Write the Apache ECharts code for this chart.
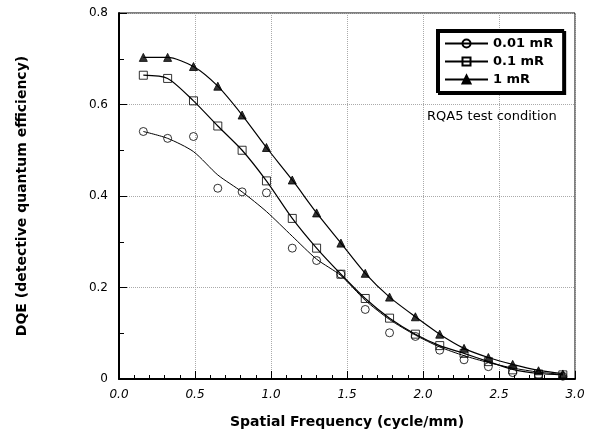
<!DOCTYPE html>
<html>
<head>
<meta charset="utf-8">
<script src="https://cdn.jsdelivr.net/npm/echarts@6/dist/echarts.min.js"></script>
<style>
html,body{margin:0;padding:0;background:#fff;}
#chart{width:594px;height:447px;}
</style>
</head>
<body>
<div id="chart"></div>
<script>
// Spatial frequency (cycle/mm) of the measured points
var freq = [0.16, 0.32, 0.49, 0.65, 0.81, 0.97, 1.14, 1.30, 1.46, 1.62, 1.78, 1.95, 2.11, 2.27, 2.43, 2.59, 2.76, 2.92];

// Measured DQE points
var dqe001 = [0.541, 0.526, 0.530, 0.417, 0.409, 0.407, 0.286, 0.259, 0.229, 0.152, 0.101, 0.093, 0.063, 0.042, 0.027, 0.014, 0.009, 0.006];
var dqe01  = [0.664, 0.657, 0.608, 0.553, 0.500, 0.433, 0.351, 0.286, 0.229, 0.176, 0.133, 0.098, 0.073, 0.056, 0.038, 0.020, 0.011, 0.009];
var dqe1   = [0.703, 0.703, 0.683, 0.640, 0.577, 0.506, 0.435, 0.363, 0.297, 0.231, 0.179, 0.136, 0.098, 0.067, 0.047, 0.032, 0.018, 0.011];

// Fitted curves
var fit001 = [0.541, 0.526, 0.497, 0.446, 0.409, 0.366, 0.312, 0.262, 0.226, 0.172, 0.130, 0.096, 0.070, 0.051, 0.036, 0.024, 0.015, 0.010];
var fit01  = [0.664, 0.657, 0.608, 0.553, 0.500, 0.433, 0.351, 0.286, 0.229, 0.176, 0.133, 0.098, 0.073, 0.056, 0.038, 0.021, 0.012, 0.009];
var fit1   = [0.703, 0.703, 0.683, 0.640, 0.577, 0.506, 0.435, 0.363, 0.297, 0.231, 0.179, 0.136, 0.098, 0.067, 0.047, 0.032, 0.019, 0.012];

var names = ['0.01 mR', '0.1 mR', '1 mR'];
var xTickLabels = ['0.0', '0.5', '1.0', '1.5', '2.0', '2.5', '3.0'];
var yTickLabels = ['0', '0.2', '0.4', '0.6', '0.8'];
var xTitle = 'Spatial Frequency (cycle/mm)';
var yTitle = 'DQE (detective quantum efficiency)';
var note = 'RQA5 test condition';

function pairs(xs, ys) { return xs.map(function (x, i) { return [x, ys[i]]; }); }

var FONT = 'DejaVu Sans';
var hollow = {color: 'rgba(0,0,0,0)', borderColor: '#000', borderWidth: 1};
var solid = {color: '#000', borderColor: '#000', borderWidth: 1};

function fitSeries(name, data, symbol, size, style, width) {
  return {
    type: 'line', name: name, data: pairs(freq, data), smooth: 0.25,
    symbol: symbol, symbolSize: size, showSymbol: false,
    itemStyle: style, lineStyle: {color: '#000', width: width},
    z: 2, silent: true
  };
}
function ptSeries(name, data, symbol, size, style) {
  return {
    type: 'scatter', name: name + ' pts', data: pairs(freq, data),
    symbol: symbol, symbolSize: size, itemStyle: style, z: 3, silent: true
  };
}

var chart = echarts.init(document.getElementById('chart'), null, {renderer: 'canvas'});
chart.setOption({
  animation: false,
  backgroundColor: '#fff',
  grid: {left: 119, right: 19, top: 13, bottom: 68, show: true, borderColor: '#000', borderWidth: 1, backgroundColor: 'rgba(0,0,0,0)'},
  legend: {
    data: names,
    orient: 'vertical',
    left: 437, top: 30,
    padding: [7, 10, 6, 7],
    itemGap: 5, itemWidth: 43, itemHeight: 10,
    backgroundColor: '#fff',
    borderColor: '#000', borderWidth: 2,
    shadowColor: '#000', shadowBlur: 0, shadowOffsetX: 2, shadowOffsetY: 2,
    selectedMode: false,
    textStyle: {fontFamily: FONT, fontWeight: 'bold', fontSize: 13, color: '#000'}
  },
  xAxis: {
    type: 'value', min: 0, max: 3, interval: 0.5,
    name: xTitle, nameLocation: 'middle', nameGap: 36,
    nameTextStyle: {fontFamily: FONT, fontWeight: 'bold', fontSize: 14, color: '#000'},
    axisLine: {show: true, lineStyle: {color: '#000', width: 2}},
    axisTick: {show: true, inside: true, length: 8, lineStyle: {color: '#000', width: 1}},
    minorTick: {show: true, splitNumber: 5, length: 4, lineStyle: {color: '#000', width: 1}},
    axisLabel: {
      margin: 10, fontFamily: FONT, fontStyle: 'italic', fontSize: 12, color: '#000',
      formatter: function (v) { return xTickLabels[Math.round(v / 0.5)]; }
    },
    splitLine: {show: true, lineStyle: {color: '#aaa', type: 'dotted', width: 1}}
  },
  yAxis: {
    type: 'value', min: 0, max: 0.8, interval: 0.2,
    name: yTitle, nameLocation: 'middle', nameGap: 90,
    nameTextStyle: {fontFamily: FONT, fontWeight: 'bold', fontSize: 14, color: '#000'},
    axisLine: {show: true, lineStyle: {color: '#000', width: 2}},
    axisTick: {show: true, inside: true, length: 8, lineStyle: {color: '#000', width: 1}},
    minorTick: {show: true, splitNumber: 2, length: 5, lineStyle: {color: '#000', width: 1}},
    axisLabel: {
      margin: 11, fontFamily: FONT, fontSize: 12, color: '#000',
      formatter: function (v) { return yTickLabels[Math.round(v / 0.2)]; }
    },
    splitLine: {show: true, lineStyle: {color: '#aaa', type: 'dotted', width: 1}}
  },
  graphic: [{
    type: 'text', left: 427, top: 110, z: 10,
    style: {text: note, font: '13px "DejaVu Sans"', fill: '#000'}
  }],
  series: [
    fitSeries(names[0], fit001, 'circle', 8, hollow, 1),
    fitSeries(names[1], fit01, 'rect', 8, hollow, 1.2),
    fitSeries(names[2], fit1, 'triangle', 8, solid, 1.2),
    ptSeries(names[0], dqe001, 'circle', 8, hollow),
    ptSeries(names[1], dqe01, 'rect', 8, hollow),
    ptSeries(names[2], dqe1, 'triangle', 8, solid)
  ]
});
</script>
</body>
</html>
